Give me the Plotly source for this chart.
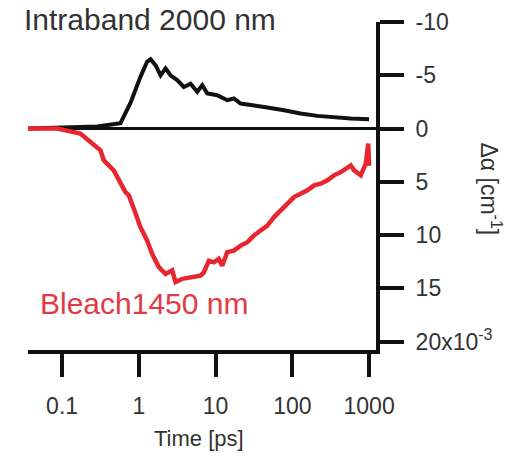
import plotly.graph_objects as go

# Intraband 2000 nm (black) – time [ps], delta alpha (x1e-3 cm^-1)
intra_t = [0.036, 0.286, 0.577, 0.778, 1.05, 1.28, 1.42, 1.65, 1.92, 2.23, 2.59, 3.16, 3.86,
           4.72, 5.77, 6.70, 7.79, 10.5, 14.2, 17.3, 21.2, 31.6, 47.3, 77.9, 128, 212, 349, 577, 1000]
intra_v = [0.0, -0.2, -0.5, -2.4, -4.85, -6.27, -6.5, -5.95, -5.0, -5.65, -5.0, -4.55, -3.9,
           -4.2, -3.45, -4.07, -3.3, -3.13, -2.66, -2.82, -2.35, -2.19, -1.97, -1.72, -1.41,
           -1.19, -1.03, -0.94, -0.87]

# Bleach 1450 nm (red)
bleach_t = [0.036, 0.086, 0.173, 0.286, 0.316, 0.349, 0.471, 0.669, 0.740, 0.859, 1.05, 1.28,
            1.49, 1.82, 2.23, 2.72, 3.01, 3.68, 4.72, 6.37, 7.03, 8.18, 9.50, 11.0, 12.2, 14.2,
            17.3, 21.2, 25.9, 31.6, 38.6, 47.3, 57.7, 70.5, 86.1, 105, 128, 157, 192, 234, 286,
            349, 428, 577, 637, 779, 905, 952, 975, 1000]
bleach_v = [0.0, 0.0, 0.47, 1.73, 2.04, 2.98, 3.92, 5.96, 6.27, 7.5, 9.26, 10.5, 11.76, 13.0,
            13.64, 13.3, 14.4, 14.1, 13.96, 13.8, 13.5, 12.4, 12.55, 12.23, 12.86, 11.6, 11.45,
            10.98, 10.67, 10.04, 9.57, 9.1, 8.31, 7.69, 7.06, 6.43, 6.12, 5.8, 5.33, 5.17, 4.86,
            4.39, 4.08, 3.45, 3.92, 4.39, 3.29, 2.35, 1.4, 3.5]

x_tickvals = [0.1, 1, 10, 100, 1000]
x_ticktext = ["0.1", "1", "10", "100", "1000"]
y_tickvals = [-10, -5, 0, 5, 10, 15, 20]
y_ticktext = ["-10", "-5", "0", "5", "10", "15", "20x10<sup>-3</sup>"]

FONT = "Liberation Sans, Arial, sans-serif"
RED = "#e8262f"
TEXT_GREY = "#333333"

fig = go.Figure()
fig.add_trace(go.Scatter(x=intra_t, y=intra_v, mode="lines",
                         line=dict(color="#111111", width=4), showlegend=False))
fig.add_trace(go.Scatter(x=bleach_t, y=bleach_v, mode="lines",
                         line=dict(color=RED, width=4.5), showlegend=False))

fig.update_layout(
    width=514, height=457,
    margin=dict(l=28, r=138, t=22, b=107, autoexpand=False),
    paper_bgcolor="white", plot_bgcolor="white",
    font=dict(family=FONT, color=TEXT_GREY, size=23),
    xaxis=dict(type="log", range=[-1.444, 3.09], tickvals=x_tickvals, ticktext=x_ticktext,
               ticks="outside", ticklen=23, tickwidth=4, tickcolor="#111111",
               showline=True, linewidth=4, linecolor="#111111", automargin=False,
               showgrid=False, zeroline=False, ticklabelstandoff=9,
               tickfont=dict(size=23, color=TEXT_GREY)),
    yaxis=dict(range=[20.78, -10], side="right", tickvals=y_tickvals, ticktext=y_ticktext,
               ticks="outside", ticklen=24, tickwidth=4, tickcolor="#111111",
               showline=True, linewidth=4, linecolor="#111111", automargin=False,
               showgrid=False, zeroline=True, zerolinewidth=3, zerolinecolor="#111111",
               ticklabelstandoff=7, tickfont=dict(size=23, color=TEXT_GREY)),
    annotations=[
        dict(text="Intraband 2000 nm", xref="paper", yref="paper", x=-0.017, y=1.009,
             xanchor="left", yanchor="middle", showarrow=False,
             font=dict(family=FONT, size=30, color=TEXT_GREY)),
        dict(text="Bleach1450 nm", xref="paper", yref="paper", x=0.029, y=0.142,
             xanchor="left", yanchor="middle", showarrow=False,
             font=dict(family=FONT, size=30, color="#e23a44")),
        dict(text="Time [ps]", xref="paper", yref="paper", x=0.491, y=-0.27,
             xanchor="center", yanchor="middle", showarrow=False,
             font=dict(family=FONT, size=22, color=TEXT_GREY)),
        dict(text="Δα [cm<sup>-1</sup>]", xref="paper", yref="paper", x=1.33, y=0.49,
             xanchor="center", yanchor="middle", showarrow=False, textangle=90,
             font=dict(family=FONT, size=23, color=TEXT_GREY)),
    ],
)

fig.write_html("out.html", config={"displayModeBar": False},
               post_script="document.body.style.margin='0';document.body.style.padding='0';")
